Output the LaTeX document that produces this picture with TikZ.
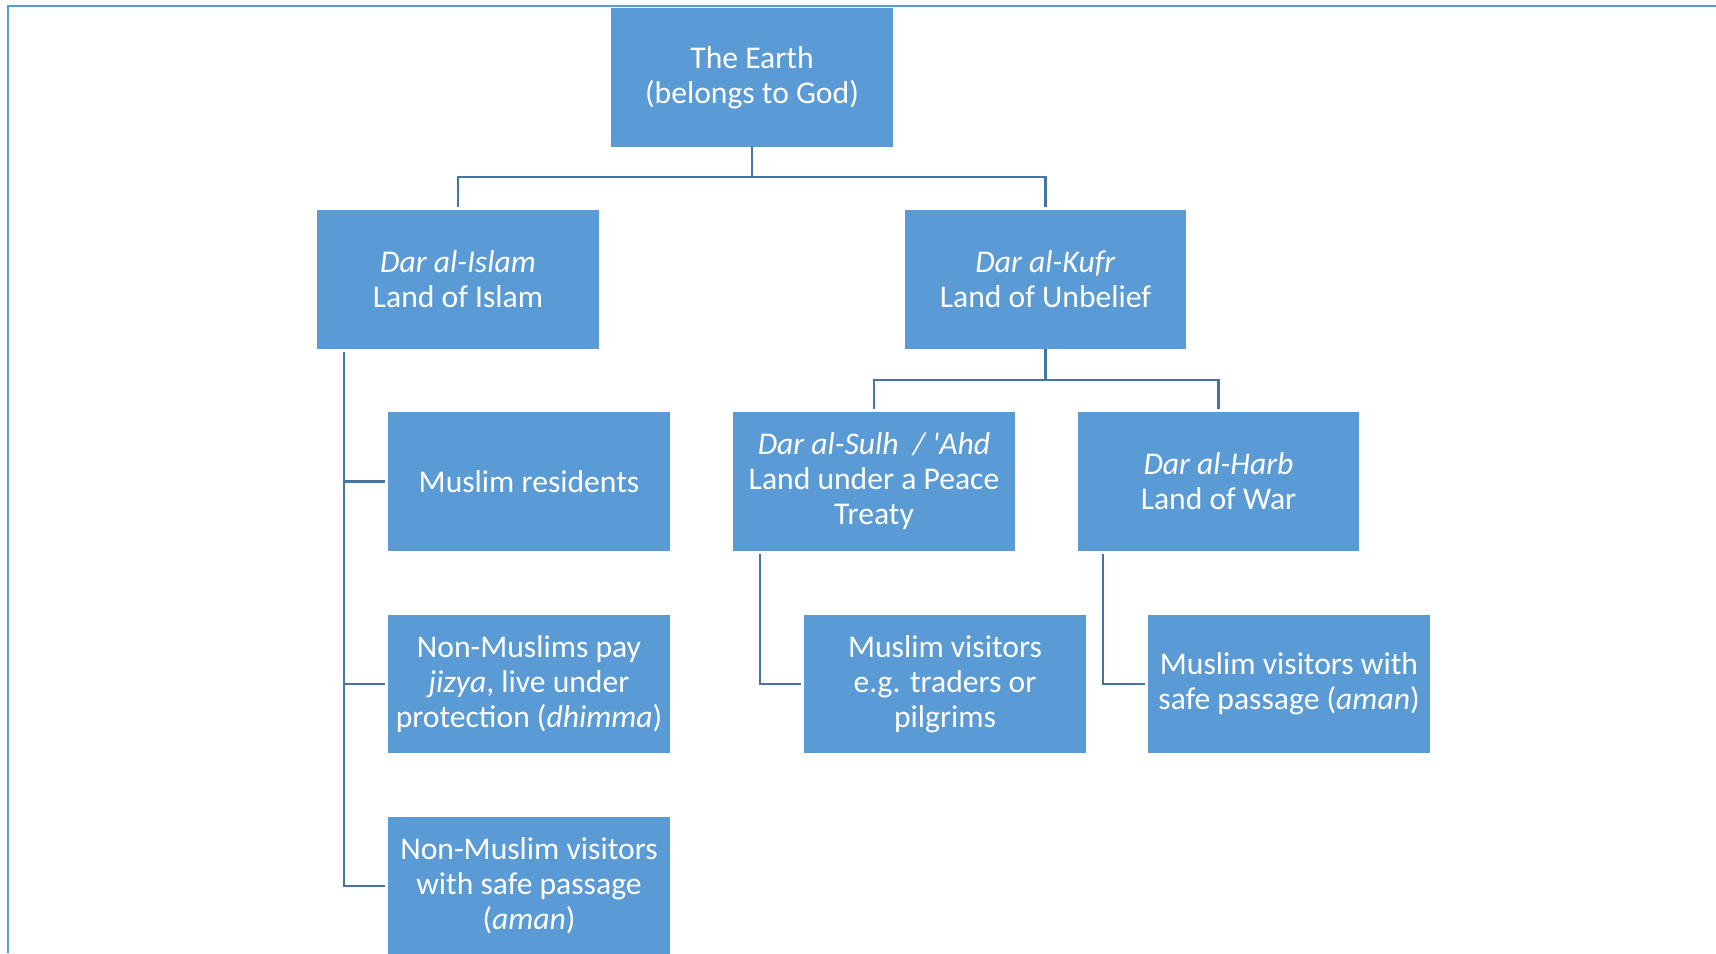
\documentclass[tikz,border=0pt]{standalone}
\usepackage{fontspec}
\setmainfont{Carlito}
\usetikzlibrary{positioning,calc}
\definecolor{boxblue}{RGB}{91,155,213}
\definecolor{linkblue}{RGB}{68,117,164}

\begin{document}
\begin{tikzpicture}[x=0.02cm,y=-0.02cm,
    box/.style={rectangle,fill=boxblue,text=white,minimum width=5.64cm,minimum height=2.78cm,
      inner sep=0pt,align=center,font=\fontsize{18}{19.9}\selectfont},
    link/.style={draw=linkblue,line width=1.3pt,shorten >=0.05cm}]
    \useasboundingbox (0,0) rectangle (1716,953);

    % Frame
    \draw[boxblue,line width=1.5pt] (8,953) -- (8,6) -- (1716,6);

    % Top level
    \node[box] (earth) at (752,77.5) {The Earth\\(belongs to God)};

    % Two lands
    \node[box] (islam) at (458,279.5) {\textit{Dar al-Islam}\\Land of Islam};
    \node[box] (kufr) at (1045.5,279.5) {\textit{Dar al-Kufr}\\Land of Unbelief};

    % Under Dar al-Kufr
    \node[box] (sulh) at (874,481.5) {\textit{Dar al-Sulh~ / \textquotesingle Ahd}\\Land under a Peace\\Treaty};
    \node[box] (harb) at (1218.5,481.5) {\textit{Dar al-Harb}\\Land of War};

    % People in Dar al-Islam
    \node[box] (resid) at (529,481.5) {Muslim residents};
    \node[box] (dhimmi) at (529,684) {Non-Muslims pay\\\textit{jizya}, live under\\protection (\textit{dhimma})};
    \node[box] (visit) at (529,886) {Non-Muslim visitors\\with safe passage\\(\textit{aman})};

    % Visitors abroad
    \node[box] (trader) at (945,684) {Muslim visitors\\e.g. traders or\\pilgrims};
    \node[box] (amanm) at (1289,684) {Muslim visitors with\\safe passage (\textit{aman})};

    % Connectors
    \draw[link] (earth.south) -- ++(0,30) -| (islam.north);
    \draw[link] (earth.south) -- ++(0,30) -| (kufr.north);
    \draw[link] (kufr.south) -- ++(0,31) -| (sulh.north);
    \draw[link] (kufr.south) -- ++(0,31) -| (harb.north);

    \coordinate (itrunk) at ($(islam.south west)+(27,3)$);
    \coordinate (strunk) at ($(sulh.south west)+(27,3)$);
    \coordinate (htrunk) at ($(harb.south west)+(26,3)$);
    \draw[link] (itrunk) |- (resid.west);
    \draw[link] (itrunk) |- (dhimmi.west);
    \draw[link] (itrunk) |- (visit.west);
    \draw[link] (strunk) |- (trader.west);
    \draw[link] (htrunk) |- (amanm.west);
\end{tikzpicture}
\end{document}
